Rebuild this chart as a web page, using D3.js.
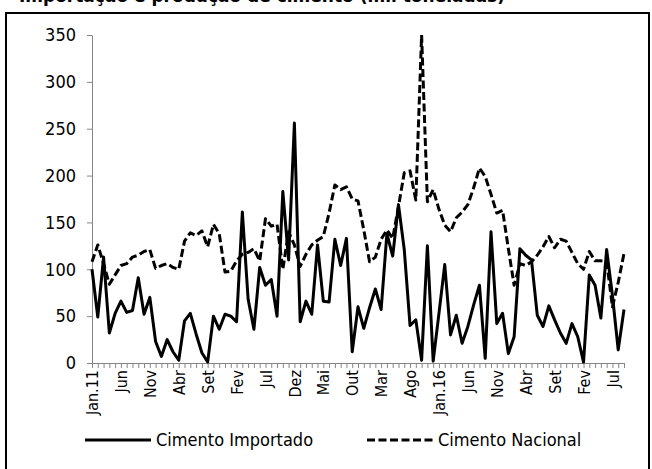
<!DOCTYPE html>
<html><head><meta charset="utf-8">
<script src="https://cdn.jsdelivr.net/npm/d3@7/dist/d3.min.js"></script>
<style>
html,body{margin:0;padding:0;background:#fff;}
svg{display:block;}
text{font-family:"DejaVu Sans Condensed","Liberation Sans Narrow","DejaVu Sans",sans-serif;}
</style></head>
<body><svg id="chart" width="652" height="469"></svg>
<script>
const title = "Importação e produção de cimento (mil toneladas)";
const monthNames = ["Jan","Fev","Mar","Abr","Mai","Jun","Jul","Ago","Set","Out","Nov","Dez"];
const years = [11,12,13,14,15,16,17,18];
const nMonths = 93;
const tickLabels = ["Jan.11","Jun","Nov","Abr","Set","Fev","Jul","Dez","Mai","Out","Mar","Ago","Jan.16","Jun","Nov","Abr","Set","Fev","Jul"];
const yTicks = [0,50,100,150,200,250,300,350];
const seriesNames = ["Cimento Importado","Cimento Nacional"];
const importado = [100,49,113,32,53,66,54,56,91,52,70,23,7,25,12,3,45,53,31,11,
  1,50,36,52,50,44,161,68,36,102,83,89,50,183,110,256,44,66,52,126,
  66,65,132,104,133,12,60,37,59,79,57,138,114,169,121,40,46,3,125,2,
  53,105,30,51,21,39,62,83,5,140,42,53,10,28,122,115,110,51,39,61,
  46,32,21,42,28,1,94,83,48,121,72,14,57];
const nacional = [108,126,106,84,94,104,106,113,115,119,121,101,104,106,102,100,130,139,136,141,
  124,148,138,97,98,109,116,118,122,109,154,146,148,100,140,126,103,116,126,131,
  135,160,190,185,188,175,173,142,108,113,132,142,133,167,203,205,174,350,172,185,
  164,147,140,155,161,169,187,208,199,180,160,163,122,83,106,104,108,115,124,135,
  123,132,130,118,106,100,119,109,109,108,60,86,117];

const categories = [];
for (let i = 0; i < nMonths; i++) {
  const m = i % 12, y = years[Math.floor(i / 12)];
  categories.push(monthNames[m] + "." + y);
}

const svg = d3.select("#chart");
const L = 92, R = 624, T = 35, B = 363;
const x = d3.scalePoint().domain(categories).range([L, R]);
const y = d3.scaleLinear().domain([0, 350]).range([B, T]);

// outer frame
svg.append("rect").attr("x", 6).attr("y", 13).attr("width", 643).attr("height", 480)
  .attr("fill", "none").attr("stroke", "#000").attr("stroke-width", 2);

// title (mostly cut off at the top, as in the original)
svg.append("text").attr("x", 505).attr("y", 2).attr("text-anchor", "end")
  .style("font-family", "'DejaVu Sans',sans-serif").style("font-weight", "bold").style("font-size", "17px")
  .text(title);

// y axis
const yAxis = svg.append("g").attr("transform", `translate(${L},0)`)
  .call(d3.axisLeft(y).tickValues(yTicks).tickSize(5).tickSizeOuter(0).tickPadding(11));
yAxis.select(".domain").attr("stroke", "#868686");
yAxis.selectAll(".tick line").attr("stroke", "#868686");
yAxis.selectAll("text").style("font-size", "18px").attr("fill", "#000");

// x axis
const xAxis = svg.append("g").attr("transform", `translate(0,${B})`)
  .call(d3.axisBottom(x).tickValues(categories).tickSize(5).tickSizeOuter(0)
    .tickFormat((d, i) => i % 5 === 0 ? tickLabels[i / 5] : ""));
xAxis.select(".domain").attr("stroke", "#868686");
xAxis.selectAll(".tick line").attr("stroke", "#868686");
xAxis.selectAll("text").style("font-size", "16px").attr("fill", "#000")
  .attr("transform", "rotate(-90)").attr("text-anchor", "end")
  .attr("x", -7).attr("y", 0).attr("dy", "0.35em");

// clip
svg.append("clipPath").attr("id", "plot").append("rect")
  .attr("x", L - 5).attr("y", T).attr("width", R - L + 10).attr("height", B - T + 5);

const line = d3.line().x((d, i) => x(categories[i])).y(d => y(d));
const g = svg.append("g").attr("clip-path", "url(#plot)");
g.append("path").datum(nacional).attr("d", line).attr("fill", "none")
  .attr("stroke", "#000").attr("stroke-width", 3).attr("stroke-dasharray", "8,3.5")
  .attr("stroke-linejoin", "round");
g.append("path").datum(importado).attr("d", line).attr("fill", "none")
  .attr("stroke", "#000").attr("stroke-width", 3).attr("stroke-linejoin", "round");

// legend
const legY = 440;
const leg = [
  {x1: 85, x2: 151, tx: 156, dash: null},
  {x1: 367, x2: 434, tx: 438, dash: "8,3.5"}
];
leg.forEach((l, i) => {
  svg.append("line").attr("x1", l.x1).attr("x2", l.x2).attr("y1", legY).attr("y2", legY)
    .attr("stroke", "#000").attr("stroke-width", 3).attr("stroke-dasharray", l.dash);
  svg.append("text").attr("x", l.tx).attr("y", legY).attr("dy", "0.35em")
    .style("font-size", "18px").text(seriesNames[i]);
});
</script></body></html>
